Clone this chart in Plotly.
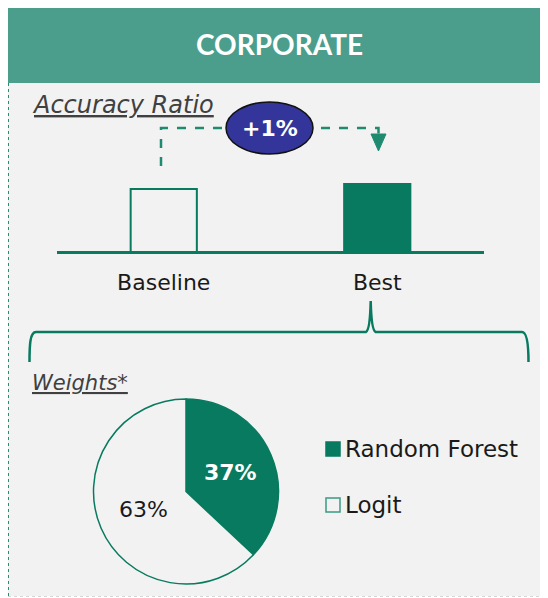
import plotly.graph_objects as go

# the page body has an 8px margin, so the figure is made 8px smaller
# and everything is placed in page pixels shifted by that offset
OFF = 8
W, H = 548 - OFF, 598 - OFF

# data
models = ['Baseline', 'Best']
accuracy_ratio = [0.75, 0.76]
weight_labels = ['Random Forest', 'Logit']
weight_values = [37, 63]

# colours
GREEN = '#077a5f'
HEADER = '#4b9e8b'
BG = '#f2f2f2'
NAVY = '#33359a'


def px(x):
    return (x - OFF) / W


def py(y):
    return 1 - (y - OFF) / H


def path(d):
    out = []
    for cmd, pts in d:
        if cmd == 'Z':
            out.append('Z')
            continue
        coords = ' '.join(f'{px(x):.5f},{py(y):.5f}' for x, y in pts)
        out.append(f'{cmd} {coords}')
    return ' '.join(out)


fig = go.Figure()

# accuracy ratio bars
fig.add_trace(go.Bar(
    x=models, y=accuracy_ratio,
    width=0.31,
    marker=dict(color=[BG, GREEN], line=dict(color=GREEN, width=2)),
    showlegend=False, hoverinfo='skip',
))

# weights pie
fig.add_trace(go.Pie(
    labels=weight_labels, values=weight_values,
    sort=False, direction='clockwise', rotation=0,
    marker=dict(colors=[GREEN, BG], line=dict(color=GREEN, width=1.5)),
    texttemplate=['<b>%{percent:.0%}</b>', '%{percent:.0%}'],
    textposition='inside', insidetextorientation='horizontal',
    insidetextfont=dict(color=['white', '#1a1a1a'], size=22, family='DejaVu Sans'),
    domain=dict(x=[px(93), px(279)], y=[py(584), py(399)]),
    showlegend=False, hoverinfo='skip',
))

shapes = [
    dict(type='rect', x0=px(8), x1=1, y0=py(596), y1=1, fillcolor=BG, line=dict(width=0), layer='below'),
    dict(type='rect', x0=px(8), x1=1, y0=py(83), y1=1, fillcolor=HEADER, line=dict(width=0), layer='below'),
    dict(type='line', x0=px(8.5), x1=px(8.5), y0=py(83), y1=py(596), line=dict(color='#2e8b74', width=1, dash='dot')),
    dict(type='line', x0=px(8), x1=1, y0=py(596.5), y1=py(596.5), line=dict(color='#d6d6d6', width=1, dash='dot')),
    # brace
    dict(type='path', line=dict(color=GREEN, width=2.5), path=path([
        ('M', [(29.5, 362)]),
        ('C', [(29.5, 345), (30, 332), (36, 332)]),
        ('L', [(366, 332)]),
        ('Q', [(370, 330), (370.7, 301)]),
        ('Q', [(371.4, 330), (375.5, 332)]),
        ('L', [(522, 332)]),
        ('C', [(527, 332), (528.5, 345), (528.5, 362)]),
    ])),
    # dashed arrow
    dict(type='path', line=dict(color='#1f8a70', width=2.5, dash='dash'), path=path([
        ('M', [(161, 166)]),
        ('L', [(161, 128)]),
        ('L', [(378.5, 128)]),
        ('L', [(378.5, 136)]),
    ])),
    dict(type='path', line=dict(color='#1f8a70', width=1), fillcolor='#1f8a70', path=path([
        ('M', [(371, 134)]), ('L', [(386, 134)]), ('L', [(378.5, 151)]), ('Z', []),
    ])),
    # +1% bubble
    dict(type='circle', x0=px(226), x1=px(313), y0=py(154), y1=py(102),
         fillcolor=NAVY, line=dict(color='#111111', width=1.5)),
]

annotations = [
    dict(text='<b>CORPORATE</b>', x=px(279), y=py(44.5), font=dict(family='Lato', size=28, color='white')),
    dict(text='<u><i>Accuracy Ratio</i></u>', x=px(30), y=py(105), xanchor='left',
         font=dict(family='DejaVu Sans', size=24, color='#404040')),
    dict(text='<u><i>Weights*</i></u>', x=px(30), y=py(383), xanchor='left',
         font=dict(family='DejaVu Sans', size=21, color='#404040')),
    dict(text=f'<b>+{round((accuracy_ratio[1] - accuracy_ratio[0]) * 100)}%</b>', x=px(269.5), y=py(128),
         font=dict(family='DejaVu Sans', size=22, color='white')),
]

# legend drawn by hand so the two rows sit far apart
legend_y = [449, 505]
legend_fill = [GREEN, BG]
legend_line = [GREEN, '#3a9a85']
for lab, ly, fc, lc in zip(weight_labels, legend_y, legend_fill, legend_line):
    shapes.append(dict(type='rect', x0=px(326), x1=px(340), y0=py(ly + 7), y1=py(ly - 7),
                       fillcolor=fc, line=dict(color=lc, width=1.5)))
    annotations.append(dict(text=lab, x=px(343), y=py(ly), xanchor='left',
                            font=dict(family='DejaVu Sans', size=23, color='#1a1a1a')))

for a in annotations:
    a.update(xref='paper', yref='paper', showarrow=False)
    a.setdefault('xanchor', 'center')
    a.setdefault('yanchor', 'middle')

for s in shapes:
    s.update(xref='paper', yref='paper')

fig.update_layout(
    width=W, height=H,
    margin=dict(l=0, r=0, t=0, b=0),
    paper_bgcolor='white', plot_bgcolor='rgba(0,0,0,0)',
    shapes=shapes, annotations=annotations,
    xaxis=dict(domain=[px(57), px(484)], range=[-0.5, 1.5], showgrid=False, zeroline=False,
               showline=True, linecolor=GREEN, linewidth=2.5,
               ticks='outside', ticklen=10, tickcolor='rgba(0,0,0,0)',
               tickfont=dict(family='DejaVu Sans', size=22, color='#1a1a1a')),
    yaxis=dict(domain=[py(251), py(151)], range=[0.626, 0.826], visible=False),
    showlegend=False,
)

fig.write_html('out.html')
